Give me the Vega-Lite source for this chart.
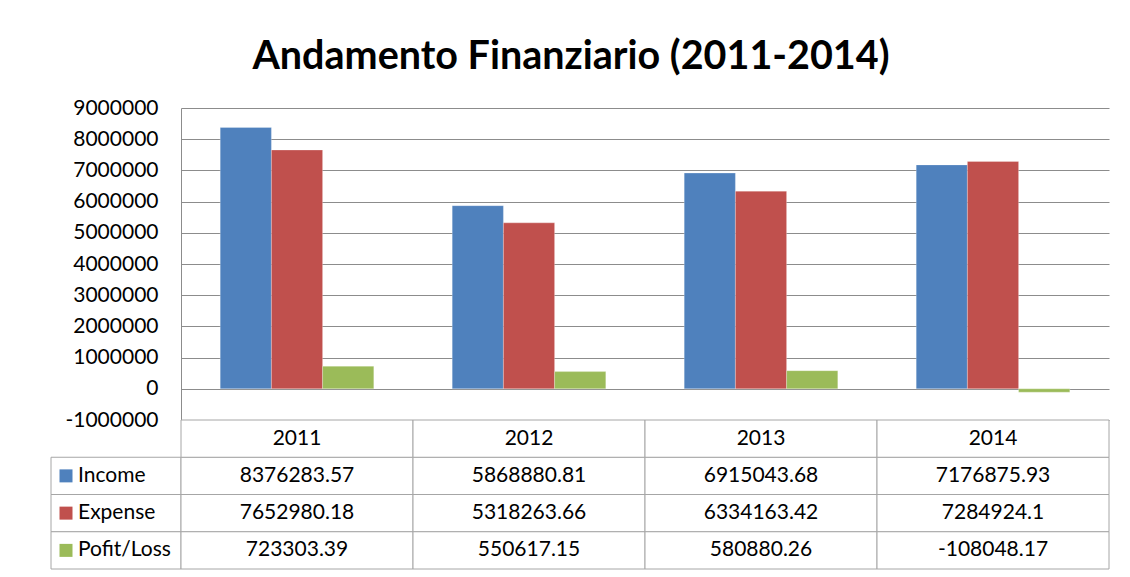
{
  "$schema": "https://vega.github.io/schema/vega-lite/v6.json",
  "padding": {"left": 50, "top": 36, "right": 5, "bottom": 5},
  "background": "white",
  "title": {"text": "Andamento Finanziario (2011-2014)", "fontSize": 39.5, "font": "Lato", "fontWeight": "bold", "color": "#000000", "anchor": "middle", "offset": 20, "dx": -9},
  "datasets": {
    "fin": [
      {"year": "2011", "series": "Income", "value": 8376283.57},
      {"year": "2011", "series": "Expense", "value": 7652980.18},
      {"year": "2011", "series": "Pofit/Loss", "value": 723303.39},
      {"year": "2012", "series": "Income", "value": 5868880.81},
      {"year": "2012", "series": "Expense", "value": 5318263.66},
      {"year": "2012", "series": "Pofit/Loss", "value": 550617.15},
      {"year": "2013", "series": "Income", "value": 6915043.68},
      {"year": "2013", "series": "Expense", "value": 6334163.42},
      {"year": "2013", "series": "Pofit/Loss", "value": 580880.26},
      {"year": "2014", "series": "Income", "value": 7176875.93},
      {"year": "2014", "series": "Expense", "value": 7284924.1},
      {"year": "2014", "series": "Pofit/Loss", "value": -108048.17}
    ]
  },
  "config": {"view": {"stroke": null}, "font": "Lato"},
  "columns": 2,
  "spacing": 0,
  "bounds": "flush",
  "concat": [
    {
      "width": 130,
      "height": 312,
      "data": {"values": []},
      "mark": {"type": "text"},
      "encoding": {}
    },
    {
      "width": 928,
      "height": 312,
      "data": {"name": "fin"},
      "mark": {"type": "bar", "stroke": "#ffffff", "strokeOpacity": 0.25, "strokeWidth": 1},
      "encoding": {
        "x": {"field": "year", "type": "nominal", "scale": {"paddingInner": 0.338, "paddingOuter": 0.169}, "axis": null},
        "xOffset": {"field": "series", "type": "nominal", "scale": {"domain": ["Income", "Expense", "Pofit/Loss"], "paddingInner": 0, "paddingOuter": 0}},
        "y": {
          "field": "value", "type": "quantitative",
          "scale": {"domain": [-1000000, 9000000], "nice": false},
          "axis": {
            "values": [-1000000, 0, 1000000, 2000000, 3000000, 4000000, 5000000, 6000000, 7000000, 8000000, 9000000],
            "labelExpr": "'' + datum.value", "grid": true, "gridColor": "#8c8c8c", "gridOpacity": 1,
            "domain": true, "domainColor": "#8c8c8c", "ticks": false,
            "labelPadding": 23, "labelFontSize": 21, "labelColor": "#000000", "labelFont": "Lato", "title": null
          }
        },
        "color": {"field": "series", "type": "nominal", "scale": {"domain": ["Income", "Expense", "Pofit/Loss"], "range": ["#4F81BD", "#C0504D", "#9BBB59"]}, "legend": null}
      }
    },
    {
      "width": 130,
      "height": 149,
      "data": {"name": "fin"},
      "transform": [{"aggregate": [{"op": "count", "as": "n"}], "groupby": ["series"]}],
      "encoding": {
        "y": {"field": "series", "type": "nominal", "scale": {"domain": ["hdr", "Income", "Expense", "Pofit/Loss"], "paddingInner": 0, "paddingOuter": 0}, "axis": null}
      },
      "layer": [
        {"mark": {"type": "rect", "fill": "white", "stroke": "#a6a6a6", "strokeWidth": 1}},
        {
          "mark": {"type": "square", "size": 169, "filled": true, "opacity": 1},
          "encoding": {
            "x": {"datum": "key", "type": "nominal", "scale": {"type": "point", "domain": ["key", "label"], "range": [15, 27], "padding": 0}, "axis": null},
            "color": {"field": "series", "type": "nominal", "scale": {"domain": ["Income", "Expense", "Pofit/Loss"], "range": ["#4F81BD", "#C0504D", "#9BBB59"]}, "legend": null}
          }
        },
        {
          "mark": {"type": "text", "align": "left", "fontSize": 21, "color": "#000000"},
          "encoding": {
            "x": {"datum": "label", "type": "nominal"},
            "text": {"field": "series", "type": "nominal"}
          }
        }
      ]
    },
    {
      "width": 928,
      "height": 149,
      "data": {"name": "fin"},
      "encoding": {
        "x": {"field": "year", "type": "nominal", "scale": {"paddingInner": 0, "paddingOuter": 0}, "axis": null},
        "y": {"field": "series", "type": "nominal", "scale": {"domain": ["hdr", "Income", "Expense", "Pofit/Loss"], "paddingInner": 0, "paddingOuter": 0}, "axis": null}
      },
      "layer": [
        {"mark": {"type": "rect", "fill": "white", "stroke": "#a6a6a6", "strokeWidth": 1}},
        {"mark": {"type": "text", "fontSize": 21, "color": "#000000"}, "encoding": {"text": {"field": "value", "type": "nominal"}}},
        {
          "transform": [{"aggregate": [{"op": "count", "as": "n"}], "groupby": ["year"]}],
          "mark": {"type": "rect", "fill": "white", "stroke": "#a6a6a6", "strokeWidth": 1},
          "encoding": {"y": {"datum": "hdr", "type": "nominal"}}
        },
        {
          "transform": [{"aggregate": [{"op": "count", "as": "n"}], "groupby": ["year"]}],
          "mark": {"type": "text", "fontSize": 21, "color": "#000000"},
          "encoding": {"y": {"datum": "hdr", "type": "nominal"}, "text": {"field": "year", "type": "nominal"}}
        }
      ]
    }
  ]
}
